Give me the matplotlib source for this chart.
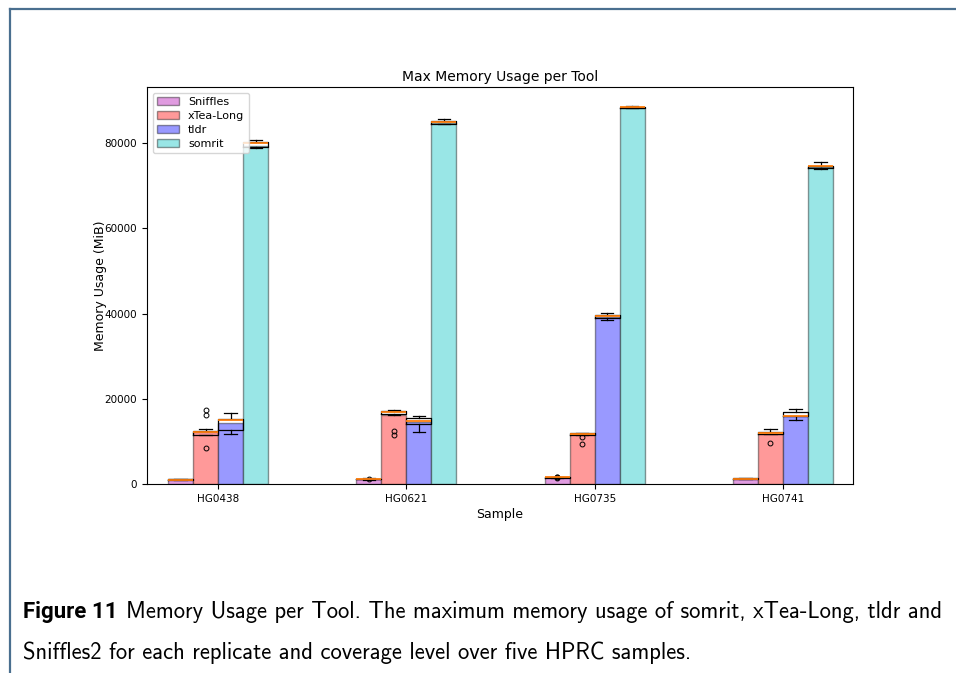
import numpy as np
import matplotlib
matplotlib.use("Agg")
import matplotlib.pyplot as plt
from matplotlib.lines import Line2D

# samples and tools
samples = ['HG0438', 'HG0621', 'HG0735', 'HG0741']
tools = ['Sniffles', 'xTea-Long', 'tldr', 'somrit']
colors = ['#e09be0', '#ff9999', '#9999ff', '#99e6e6']

# bar heights (mean max memory, MiB)
mean_sniffles = [1100, 1150, 1570, 1200]
mean_xtea = [12270, 16190, 11650, 11650]
mean_tldr = [14240, 14470, 39100, 15950]
mean_somrit = [79300, 84700, 88150, 74300]

# box stats per tool: q1, median, q3, lower whisker, upper whisker, outliers
q1_sniffles = [980, 1100, 1450, 1150]
med_sniffles = [1020, 1150, 1550, 1250]
q3_sniffles = [1080, 1250, 1650, 1300]
lo_sniffles = [950, 1050, 1400, 1100]
hi_sniffles = [1100, 1300, 1700, 1350]
out_sniffles = [[], [1150], [1500, 1560, 1620], []]

q1_xtea = [11500, 16500, 11570, 11730]
med_xtea = [12100, 16820, 11800, 12040]
q3_xtea = [12500, 17100, 11880, 12270]
lo_xtea = [11500, 16300, 11500, 11700]
hi_xtea = [12830, 17300, 12040, 12900]
out_xtea = [[17300, 16300, 8370], [12500, 11600], [10950, 9310], [9690]]

q1_tldr = [12600, 14000, 38870, 15850]
med_tldr = [15100, 14780, 39420, 16030]
q3_tldr = [15180, 15560, 39580, 16890]
lo_tldr = [11730, 12130, 38470, 15010]
hi_tldr = [16730, 16030, 40040, 17590]
out_tldr = [[], [], [], []]

q1_somrit = [79130, 84530, 88140, 74060]
med_somrit = [80000, 84850, 88370, 74530]
q3_somrit = [80160, 85160, 88510, 74680]
lo_somrit = [78760, 84450, 88100, 73900]
hi_somrit = [80770, 85560, 88750, 75470]
out_somrit = [[], [], [], []]

means = [mean_sniffles, mean_xtea, mean_tldr, mean_somrit]
boxes = [
    (q1_sniffles, med_sniffles, q3_sniffles, lo_sniffles, hi_sniffles, out_sniffles),
    (q1_xtea, med_xtea, q3_xtea, lo_xtea, hi_xtea, out_xtea),
    (q1_tldr, med_tldr, q3_tldr, lo_tldr, hi_tldr, out_tldr),
    (q1_somrit, med_somrit, q3_somrit, lo_somrit, hi_somrit, out_somrit),
]

fig = plt.figure(figsize=(9.56, 6.73), dpi=100)
ax = fig.add_axes([0.1538, 0.2808, 0.7385, 0.5899])

x = np.arange(len(samples))
w = 0.133

for i, tool in enumerate(tools):
    pos = x + (i - 1.5) * w
    ax.bar(pos, means[i], width=w, color=colors[i], edgecolor=(0, 0, 0, 0.4),
           linewidth=1.0, label=tool, zorder=2)
    q1, med, q3, lo, hi, out = boxes[i]
    stats = []
    for j in range(len(samples)):
        stats.append(dict(q1=q1[j], med=med[j], q3=q3[j], whislo=lo[j],
                          whishi=hi[j], fliers=out[j]))
    ax.bxp(stats, positions=pos, widths=w, manage_ticks=False, zorder=3,
           boxprops=dict(color='black', linewidth=0.9),
           whiskerprops=dict(color='black', linewidth=0.9),
           capprops=dict(color='black', linewidth=0.9),
           medianprops=dict(color='#ff7f0e', linewidth=1.3),
           flierprops=dict(marker='o', markersize=3.5, markerfacecolor='none',
                           markeredgecolor='black', markeredgewidth=0.7))

ax.set_xticks(x)
ax.set_xticklabels(samples, fontsize=7.5)
ax.tick_params(axis='y', labelsize=7.5)
ax.tick_params(length=3.5)
ax.set_xlim(-0.377, 3.372)
ax.set_ylim(0, 93130)
ax.set_yticks([0, 20000, 40000, 60000, 80000])
ax.set_xlabel('Sample', fontsize=9, labelpad=3)
ax.set_ylabel('Memory Usage (MiB)', fontsize=9, labelpad=-2)
ax.set_title('Max Memory Usage per Tool', fontsize=10, pad=4)
ax.legend(loc='upper left', fontsize=8, handlelength=2.0, borderpad=0.4,
          labelspacing=0.35)

# page frame lines
frame = '#4a6f8f'
fig.add_artist(Line2D([9.5 / 956, 1.0], [1 - 8.5 / 673, 1 - 8.5 / 673],
                      transform=fig.transFigure, color=frame, linewidth=1.6))
fig.add_artist(Line2D([9.5 / 956, 9.5 / 956], [0.0, 1 - 8.5 / 673],
                      transform=fig.transFigure, color=frame, linewidth=1.6))

# caption
cap_size = 16.3
renderer = fig.canvas.get_renderer()
t1 = fig.text(23 / 956, 1 - 612 / 673, 'Figure 11', fontsize=16,
              fontweight='bold', family=['Roboto', 'DejaVu Sans'],
              va='center', ha='left')
bb = t1.get_window_extent(renderer)
fig.text((bb.x1 + 8) / 956, 1 - 612 / 673,
         'Memory Usage per Tool. The maximum memory usage of somrit, xTea-Long, tldr and',
         fontsize=cap_size, family=['cmss10', 'DejaVu Sans'], va='center', ha='left')
fig.text(23 / 956, 1 - 653 / 673,
         'Sniffles2 for each replicate and coverage level over five HPRC samples.',
         fontsize=cap_size, family=['cmss10', 'DejaVu Sans'], va='center', ha='left')

fig.savefig('out.png', dpi=100)
